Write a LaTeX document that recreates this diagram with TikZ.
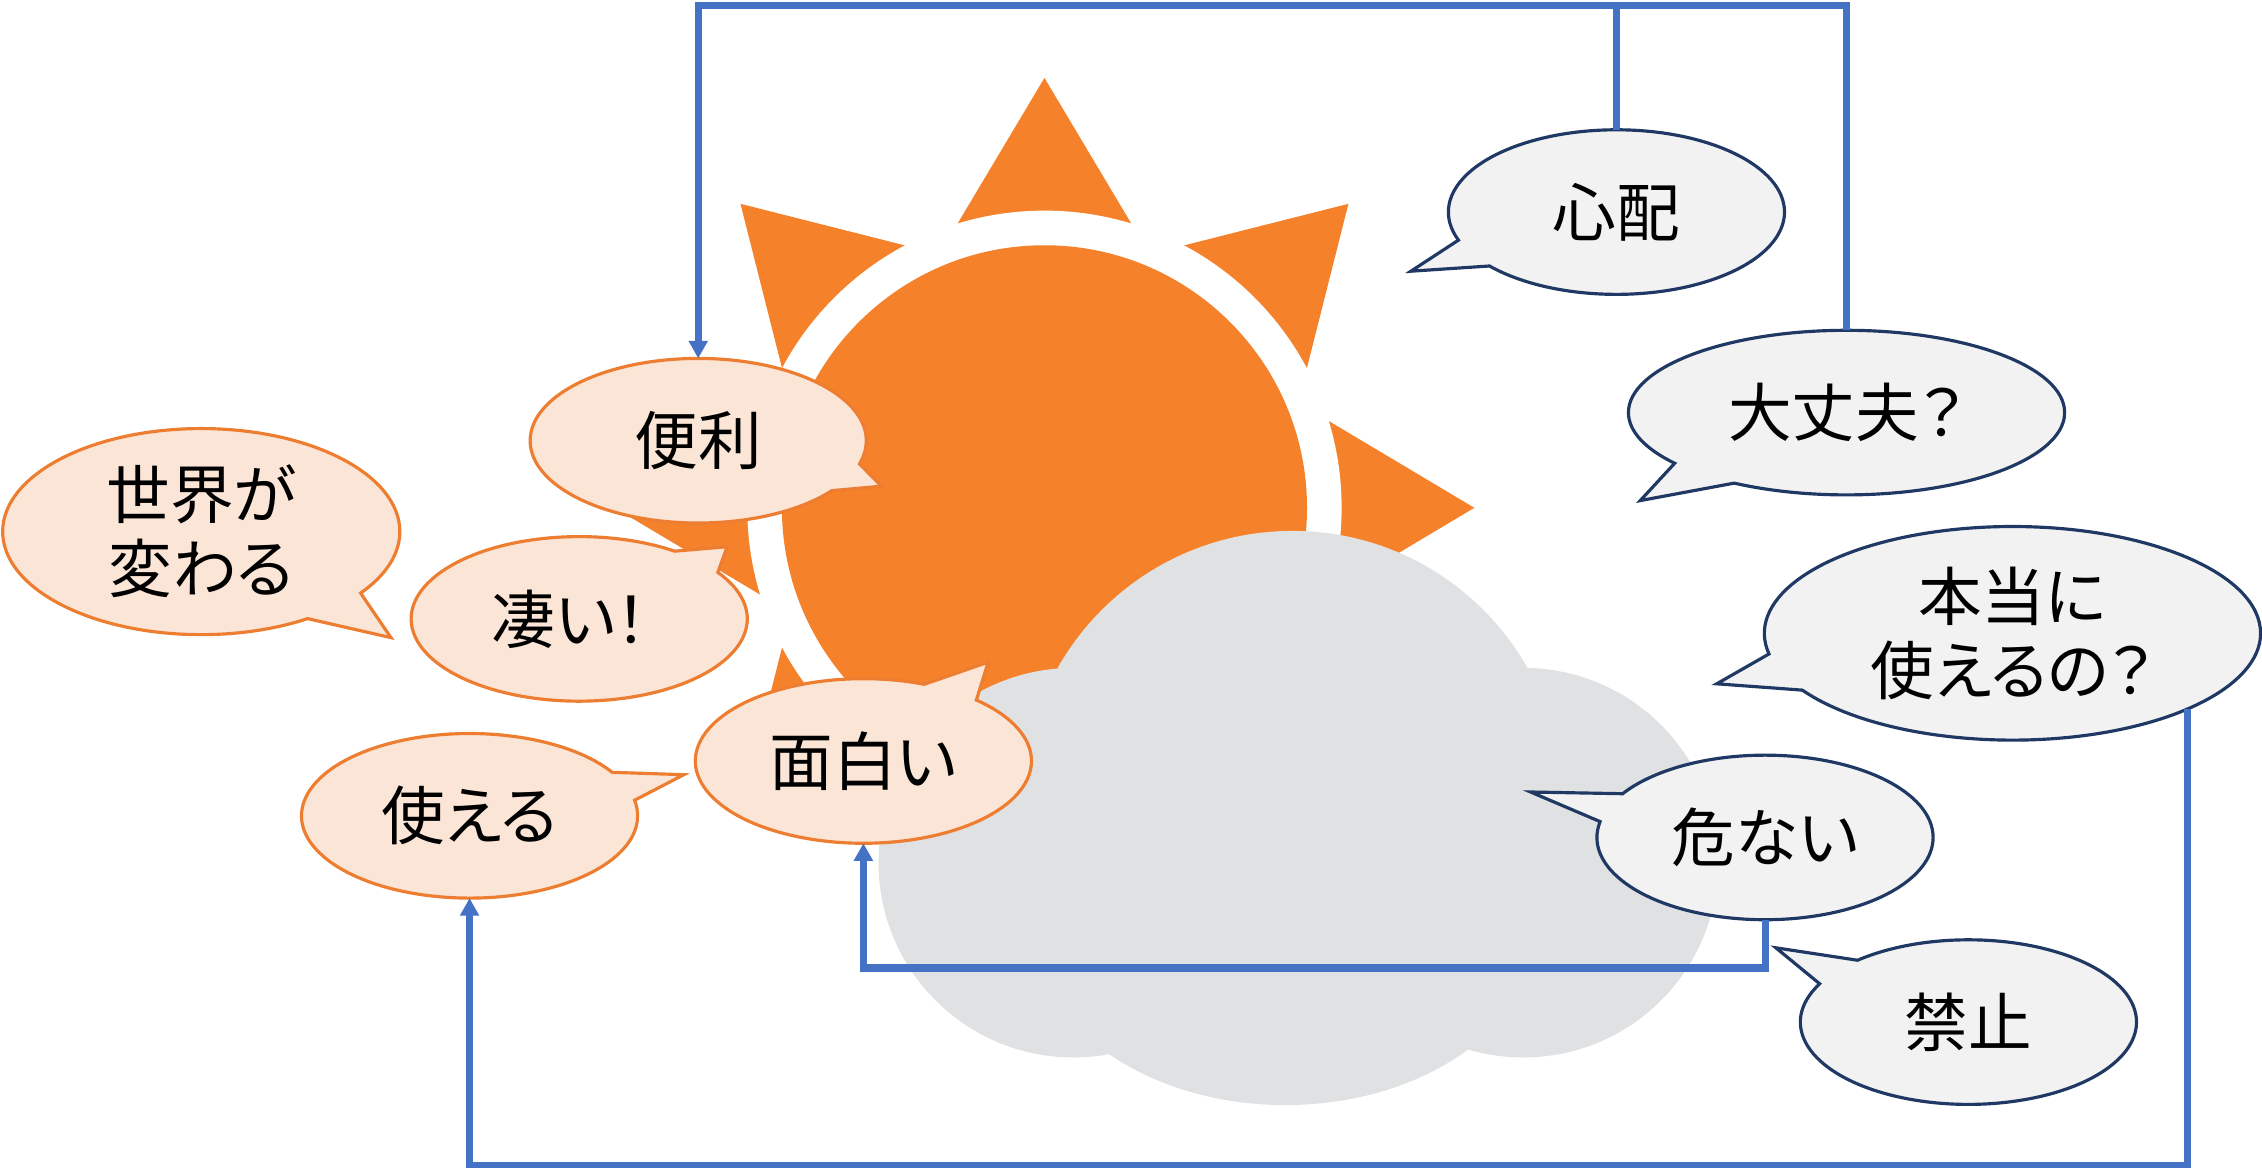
\documentclass[tikz,border=0pt]{standalone}
\usepackage{fontspec}
\newfontfamily\jpfont[RawFeature={+palt}]{Noto Sans CJK JP}
\usepackage{tikz}
\usetikzlibrary{arrows.meta}
\usetikzlibrary{shapes.callouts}
\definecolor{sunorange}{HTML}{F5822B}
\definecolor{cloudgrey}{HTML}{DFE1E3}
\definecolor{warmfill}{HTML}{FBE5D6}
\definecolor{warmline}{HTML}{ED7D31}
\definecolor{coolfill}{HTML}{F2F2F2}
\definecolor{coolline}{HTML}{1F3864}
\definecolor{linkblue}{HTML}{4472C4}

\begin{document}
\begin{tikzpicture}[x=0.014426cm,y=-0.014426cm]
  \tikzstyle{bubble} = [ellipse callout, callout pointer arc=21, inner sep=0pt, outer sep=0pt, align=center, line width=.9pt, text=black, font=\jpfont\fontsize{18.1}{21}\selectfont, minimum width=3.36cm, minimum height=1.645cm]
  \tikzstyle{warm} = [bubble, draw=warmline, fill=warmfill]
  \tikzstyle{cool} = [bubble, draw=coolline, fill=coolfill]
  \tikzstyle{link} = [draw=linkblue, line width=2pt]
  \tikzstyle{linkhead} = [link, -{Triangle[length=5pt,width=5.2pt]}]
  \useasboundingbox (0,0) rectangle (1568,809.6);

  \coordinate (Sun) at (724,352);
  \foreach \a in {0,45,...,315}
    \fill[sunorange] (Sun) +(\a:298) -- +(\a-17:206) -- +(\a+17:206) -- cycle;
  \fill[white] (Sun) circle (206);
  \fill[sunorange] (Sun) circle (182);
  \fill[cloudgrey] (744,598) circle (135) (1056,598) circle (135) (896,555) circle (187) (891,640) ellipse (176 and 126);

  \node (Benri) [warm, callout absolute pointer={(611,337)}] at (484,305.5) {便利};
  \node (Sekai) [warm, minimum width=3.97cm, minimum height=2.06cm, callout absolute pointer={(271,442)}] at (139.5,368.5) {世界が\\変わる};
  \node (Sugoi) [warm, callout absolute pointer={(504,379)}] at (401.5,429) {凄い！\kern.3em};
  \node (Omoshiroi) [warm, callout absolute pointer={(685,459)}] at (598.5,527.5) {面白い};
  \node (Tsukaeru) [warm, callout absolute pointer={(474,537)}] at (325.5,565.5) {使える};
  \node (Shinpai) [cool, callout absolute pointer={(978,188)}] at (1120.5,147) {心配};
  \node (Daijobu) [cool, minimum width=4.36cm, callout absolute pointer={(1137,347)}] at (1280,286) {大丈夫？};
  \node (Hontou) [cool, minimum width=4.96cm, minimum height=2.135cm, callout absolute pointer={(1190,474)}] at (1395,439) {本当に\\使えるの？};
  \node (Abunai) [cool, callout absolute pointer={(1061,549)}] at (1223.5,580.5) {危ない};
  \node (Kinshi) [cool, callout absolute pointer={(1231,657)}] at (1364.5,708.5) {禁止};

  \coordinate (TopRun) at (484,4);
  \coordinate (LowRun) at (325.5,808);
  \coordinate (MidRun) at (598.5,671);

  \draw[linkhead] (Shinpai.north) |- (TopRun) -- (Benri.north);
  \draw[link] (Daijobu.north) |- (TopRun);
  \draw[linkhead] (Hontou.south east) |- (LowRun) -- (Tsukaeru.south);
  \draw[linkhead] (Abunai.south) |- (MidRun) -- (Omoshiroi.south);
\end{tikzpicture}
\end{document}
